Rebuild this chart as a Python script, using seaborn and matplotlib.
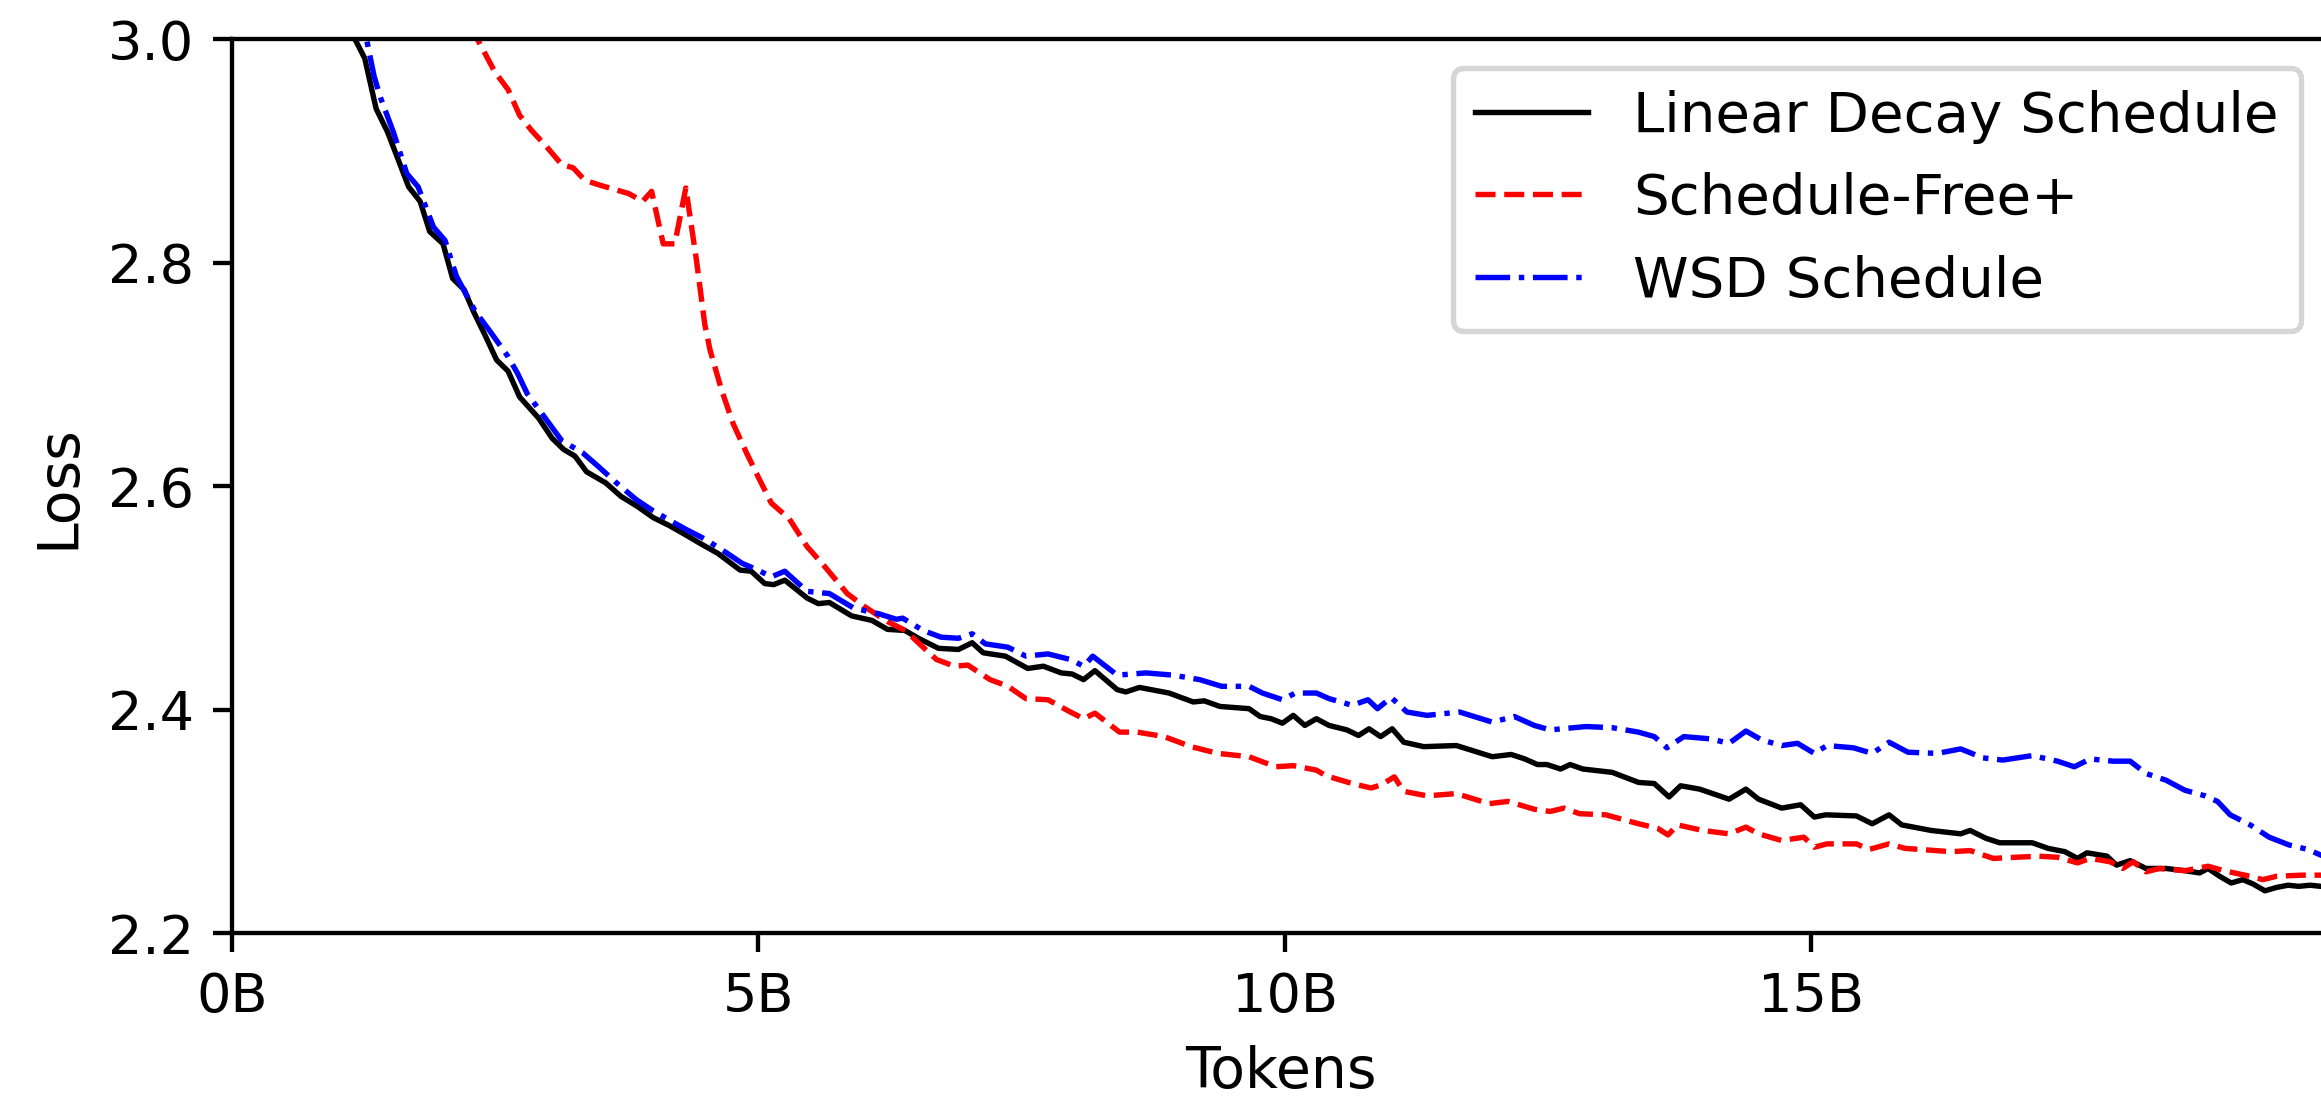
import matplotlib
matplotlib.use("Agg")
import matplotlib.pyplot as plt
import seaborn as sns
import pandas as pd

# ---- data (tokens in billions, loss) ----
linear_tokens = [0.2, 0.5, 0.8, 1.0, 1.168, 1.26, 1.313, 1.368, 1.477, 1.567, 1.677, 1.786, 1.877, 2.004,
                 2.095, 2.204, 2.295, 2.404, 2.513, 2.622, 2.731, 2.912, 3.04, 3.149, 3.257, 3.367, 3.55,
                 3.694, 3.85, 4.0, 4.15, 4.3, 4.444, 4.614, 4.826, 4.931, 5.059, 5.144, 5.25, 5.462, 5.568,
                 5.674, 5.886, 6.077, 6.225, 6.39, 6.52, 6.71, 6.9, 7.03, 7.135, 7.346, 7.558, 7.707, 7.876,
                 7.98, 8.088, 8.196, 8.408, 8.49, 8.62, 8.90, 9.13, 9.235, 9.383, 9.66, 9.765, 9.87, 9.977,
                 10.08, 10.19, 10.3, 10.42, 10.59, 10.7, 10.8, 10.91, 11.02, 11.13, 11.32, 11.63, 11.97,
                 12.15, 12.28, 12.40, 12.49, 12.62, 12.71, 12.83, 13.11, 13.36, 13.51, 13.65, 13.76, 13.94,
                 14.22, 14.38, 14.50, 14.72, 14.90, 15.03, 15.14, 15.43, 15.58, 15.74, 15.86, 16.14, 16.42,
                 16.51, 16.66, 16.79, 16.94, 17.10, 17.25, 17.41, 17.53, 17.62, 17.81, 17.90, 18.03, 18.18,
                 18.37, 18.55, 18.69, 18.77, 18.88, 18.99, 19.10, 19.20, 19.31, 19.42, 19.53, 19.63, 19.74,
                 19.84, 19.92]
linear_loss = [4.6, 3.7, 3.25, 3.07, 3.000, 2.983, 2.961, 2.938, 2.917, 2.895, 2.868, 2.855, 2.828, 2.817,
               2.786, 2.776, 2.756, 2.735, 2.713, 2.703, 2.680, 2.661, 2.643, 2.633, 2.627, 2.613, 2.603,
               2.591, 2.582, 2.572, 2.565, 2.557, 2.549, 2.540, 2.525, 2.524, 2.513, 2.512, 2.516, 2.500, 2.495,
               2.496, 2.484, 2.480, 2.472, 2.471, 2.464, 2.455, 2.454, 2.460, 2.451, 2.448, 2.437, 2.439, 2.433,
               2.432, 2.427, 2.435, 2.418, 2.416, 2.420, 2.415, 2.407, 2.408, 2.403, 2.401, 2.394, 2.392, 2.388,
               2.395, 2.386, 2.392, 2.386, 2.382, 2.377, 2.383, 2.376, 2.383, 2.371, 2.367, 2.368, 2.358,
               2.360, 2.356, 2.351, 2.351, 2.347, 2.351, 2.347, 2.344, 2.335, 2.334, 2.322, 2.332, 2.329,
               2.320, 2.329, 2.320, 2.312, 2.315, 2.304, 2.306, 2.305, 2.298, 2.306, 2.297, 2.292, 2.289,
               2.292, 2.285, 2.281, 2.281, 2.281, 2.276, 2.273, 2.267, 2.272, 2.269, 2.261, 2.265, 2.258,
               2.258, 2.256, 2.254, 2.258, 2.251, 2.245, 2.248, 2.244, 2.238, 2.241, 2.243, 2.242, 2.243,
               2.242, 2.242]

sf_tokens = [0.5, 1.0, 1.5, 2.0, 2.2, 2.331, 2.495, 2.622, 2.731, 2.84, 2.986, 3.131, 3.24, 3.35, 3.476,
             3.767, 3.90, 3.985, 4.095, 4.205, 4.31, 4.41, 4.49, 4.54, 4.65, 4.76, 4.886, 5.01, 5.122, 5.292,
             5.462, 5.631, 5.843, 6.013, 6.225, 6.395, 6.564, 6.691, 6.861, 6.989, 7.2, 7.37, 7.54, 7.75,
             7.963, 8.09, 8.196, 8.43, 8.6, 8.854, 9.11, 9.363, 9.66, 9.913, 10.08, 10.3, 10.39, 10.64,
             10.82, 10.92, 11.04, 11.13, 11.35, 11.63, 11.94, 12.12, 12.37, 12.52, 12.65, 12.80, 13.05,
             13.36, 13.54, 13.64, 13.73, 13.97, 14.22, 14.38, 14.50, 14.72, 14.93, 15.03, 15.15, 15.43,
             15.55, 15.74, 15.89, 16.33, 16.51, 16.73, 16.94, 17.16, 17.34, 17.53, 17.65, 17.84, 17.96,
             18.06, 18.18, 18.31, 18.55, 18.77, 18.92, 19.17, 19.29, 19.42, 19.66, 19.84, 19.92]
sf_loss = [4.3, 3.7, 3.35, 3.1, 3.03, 3.000, 2.971, 2.955, 2.932, 2.919, 2.904, 2.888, 2.885, 2.874, 2.870,
           2.862, 2.855, 2.864, 2.817, 2.817, 2.867, 2.803, 2.745, 2.722, 2.686, 2.656, 2.630, 2.606, 2.585,
           2.571, 2.546, 2.528, 2.504, 2.492, 2.479, 2.471, 2.456, 2.445, 2.439, 2.440, 2.427, 2.421, 2.410,
           2.409, 2.398, 2.392, 2.397, 2.380, 2.380, 2.376, 2.367, 2.361, 2.358, 2.349, 2.350, 2.346, 2.341,
           2.334, 2.330, 2.333, 2.340, 2.327, 2.323, 2.325, 2.316, 2.318, 2.311, 2.309, 2.312, 2.307, 2.306,
           2.298, 2.294, 2.288, 2.297, 2.292, 2.289, 2.295, 2.289, 2.283, 2.286, 2.277, 2.280, 2.280,
           2.275, 2.280, 2.276, 2.273, 2.274, 2.267, 2.268, 2.269, 2.268, 2.263, 2.267, 2.264, 2.258,
           2.264, 2.255, 2.258, 2.256, 2.260, 2.256, 2.251, 2.248, 2.251, 2.252, 2.252, 2.252]

wsd_tokens = [0.5, 0.8, 1.0, 1.2, 1.277, 1.349, 1.405, 1.532, 1.659, 1.767, 1.913, 2.023, 2.131, 2.313, 2.44,
              2.622, 2.712, 2.803, 2.967, 3.13, 3.33, 3.476, 3.64, 3.84, 4.0, 4.15, 4.3, 4.487, 4.656, 4.846,
              4.995, 5.122, 5.25, 5.462, 5.674, 5.905, 6.14, 6.31, 6.37, 6.564, 6.734, 6.9, 7.03, 7.155, 7.37,
              7.54, 7.75, 7.963, 8.09, 8.175, 8.408, 8.683, 8.937, 9.19, 9.40, 9.66, 9.787, 9.977, 10.1, 10.3,
              10.42, 10.64, 10.79, 10.88, 11.01, 11.16, 11.35, 11.66, 11.97, 12.18, 12.37, 12.52, 12.86,
              13.11, 13.36, 13.51, 13.63, 13.79, 14.04, 14.22, 14.38, 14.53, 14.72, 14.87, 15.03, 15.15,
              15.40, 15.58, 15.74, 15.92, 16.20, 16.42, 16.63, 16.82, 17.10, 17.34, 17.50, 17.65, 17.87,
              18.03, 18.18, 18.37, 18.55, 18.74, 18.86, 18.98, 19.17, 19.35, 19.54, 19.72, 19.84, 19.92]
wsd_loss = [4.0, 3.4, 3.18, 3.04, 3.000, 2.967, 2.949, 2.917, 2.880, 2.868, 2.832, 2.820, 2.788, 2.756, 2.740,
            2.716, 2.701, 2.683, 2.662, 2.641, 2.630, 2.618, 2.604, 2.588, 2.578, 2.570, 2.562, 2.553, 2.543,
            2.531, 2.525, 2.519, 2.524, 2.506, 2.504, 2.491, 2.486, 2.481, 2.482, 2.471, 2.465, 2.464, 2.468,
            2.459, 2.456, 2.448, 2.450, 2.445, 2.439, 2.448, 2.431, 2.433, 2.431, 2.427, 2.421, 2.421, 2.415,
            2.409, 2.415, 2.415, 2.410, 2.404, 2.409, 2.401, 2.411, 2.398, 2.395, 2.398, 2.389, 2.394, 2.386,
            2.382, 2.385, 2.384, 2.380, 2.376, 2.366, 2.376, 2.374, 2.370, 2.381, 2.373, 2.368, 2.370, 2.361,
            2.368, 2.366, 2.361, 2.371, 2.362, 2.361, 2.365, 2.357, 2.355, 2.359, 2.354, 2.349, 2.356, 2.354,
            2.354, 2.343, 2.337, 2.328, 2.323, 2.318, 2.306, 2.297, 2.286, 2.279, 2.275, 2.270, 2.267]

series_names = ["Linear Decay Schedule", "Schedule-Free+", "WSD Schedule"]
x_ticks = [0, 5, 10, 15]
x_tick_labels = ["0B", "5B", "10B", "15B"]
y_ticks = [2.2, 2.4, 2.6, 2.8, 3.0]
y_tick_labels = ["2.2", "2.4", "2.6", "2.8", "3.0"]

DPI = 390
fig = plt.figure(figsize=(2321 / DPI, 1099 / DPI), dpi=DPI)
ax = fig.add_axes([0.1, 0.1508, 0.9035, 0.8134])

styles = [("black", "-"), ("red", "--"), ("blue", "-.")]
data = [(linear_tokens, linear_loss), (sf_tokens, sf_loss), (wsd_tokens, wsd_loss)]
for (xs, ys), name, (c, ls) in zip(data, series_names, styles):
    df = pd.DataFrame({"Tokens": xs, "Loss": ys})
    sns.lineplot(data=df, x="Tokens", y="Loss", ax=ax, color=c, linestyle=ls,
                 linewidth=1.0, label=name, estimator=None, sort=False)

ax.set_xlim(0, 19.92)
ax.set_ylim(2.2, 3.0)
ax.set_xticks(x_ticks)
ax.set_xticklabels(x_tick_labels)
ax.set_yticks(y_ticks)
ax.set_yticklabels(y_tick_labels)
ax.set_xlabel("Tokens", fontsize=10.5)
ax.set_ylabel("Loss", fontsize=10.5)
ax.spines["right"].set_visible(False)
ax.legend(loc="upper right", fontsize=10.4, borderaxespad=0.5)

fig.savefig("out.png", dpi=DPI)
